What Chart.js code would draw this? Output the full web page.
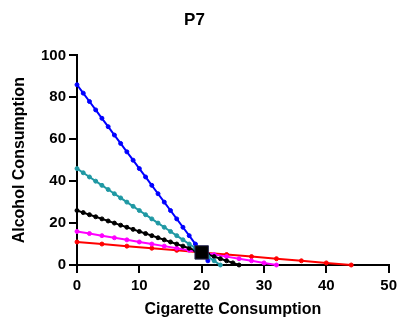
<!DOCTYPE html>
<html>
<head>
<meta charset="utf-8">
<script src="https://cdn.jsdelivr.net/npm/chart.js@4/dist/chart.umd.min.js"></script>
<style>
html,body{margin:0;padding:0;background:#fff;}
canvas{display:block;}
</style>
</head>
<body>
<canvas id="c" width="401" height="322"></canvas>
<script>
const blueX = [0,1,2,3,4,5,6,7,8,9,10,11,12,13,14,15,16,17,18,19,20,21];
const blueY = [86,82,78,74,70,66,62,58,54,50,46,42,38,34,30,26,22,18,14,10,6,2];
const tealX = [0,1,2,3,4,5,6,7,8,9,10,11,12,13,14,15,16,17,18,19,20,21,22,23];
const tealY = [46,44,42,40,38,36,34,32,30,28,26,24,22,20,18,16,14,12,10,8,6,4,2,0];
const blackX = [0,1,2,3,4,5,6,7,8,9,10,11,12,13,14,15,16,17,18,19,20,21,22,23,24,25,26];
const blackY = [26,25,24,23,22,21,20,19,18,17,16,15,14,13,12,11,10,9,8,7,6,5,4,3,2,1,0];
const magentaX = [0,2,4,6,8,10,12,14,16,18,20,22,24,26,28,30,32];
const magentaY = [16,15,14,13,12,11,10,9,8,7,6,5,4,3,2,1,0];
const redX = [0,4,8,12,16,20,24,28,32,36,40,44];
const redY = [11,10,9,8,7,6,5,4,3,2,1,0];
const squareX = [20];
const squareY = [6];
const xTicks = [0,10,20,30,40,50];
const yTicks = [0,20,40,60,80,100];

function pts(xs, ys){ return xs.map((x,i)=>({x:x, y:ys[i]})); }
function lineSet(label, xs, ys, color){
  return {label, data: pts(xs,ys), showLine:true, borderColor:color, backgroundColor:color,
    borderWidth:2, pointRadius:2, pointBorderWidth:1, pointBorderColor:color, pointBackgroundColor:color,
    clip:false, tension:0};
}
const FONT = '"Liberation Sans", Arial, Helvetica, sans-serif';

new Chart(document.getElementById('c'), {
  type: 'scatter',
  data: {
    datasets: [
      {label:'point', data: pts(squareX, squareY), pointStyle:'rect', pointRadius:9.5,
       backgroundColor:'#000000', borderColor:'#2a2a55', pointBorderWidth:1, clip:false, showLine:false},
      lineSet('blue', blueX, blueY, '#0000ff'),
      lineSet('teal', tealX, tealY, '#1f98a3'),
      lineSet('black', blackX, blackY, '#000000'),
      lineSet('magenta', magentaX, magentaY, '#ff00ff'),
      lineSet('red', redX, redY, '#ff0000')
    ]
  },
  options: {
    responsive:false, animation:false, devicePixelRatio:1,
    layout:{padding:{left:0,right:12,top:0,bottom:0}},
    plugins:{
      legend:{display:false}, tooltip:{enabled:false},
      title:{display:true, text:'P7', color:'#000',
        font:{family:FONT, size:17, weight:'bold'}, padding:{top:10,bottom:25}}
    },
    scales:{
      x:{type:'linear', min:0, max:50,
        afterBuildTicks:(s)=>{ s.ticks = xTicks.map(v=>({value:v})); },
        ticks:{color:'#000', padding:4, maxRotation:0, font:{family:FONT, size:15, weight:'bold'}},
        afterFit:(s)=>{ s.height = 57; },
        grid:{display:true, drawOnChartArea:false, drawTicks:true, tickLength:8, color:'#000000', tickColor:'#000000', lineWidth:2, tickWidth:2},
        border:{display:true, color:'#000', width:2},
        title:{display:true, text:'Cigarette Consumption', color:'#000', padding:{top:0,bottom:3},
          font:{family:FONT, size:16, weight:'bold'}}
      },
      y:{type:'linear', min:0, max:100,
        afterBuildTicks:(s)=>{ s.ticks = yTicks.map(v=>({value:v})); },
        ticks:{color:'#000', padding:3, font:{family:FONT, size:15, weight:'bold'}},
        afterFit:(s)=>{ s.width = 77; },
        grid:{display:true, drawOnChartArea:false, drawTicks:true, tickLength:8, color:'#000000', tickColor:'#000000', lineWidth:2, tickWidth:2},
        border:{display:true, color:'#000', width:2},
        title:{display:true, text:'Alcohol Consumption', color:'#000', padding:{top:10,bottom:0},
          font:{family:FONT, size:16, weight:'bold'}}
      }
    }
  }
});
</script>
</body>
</html>
